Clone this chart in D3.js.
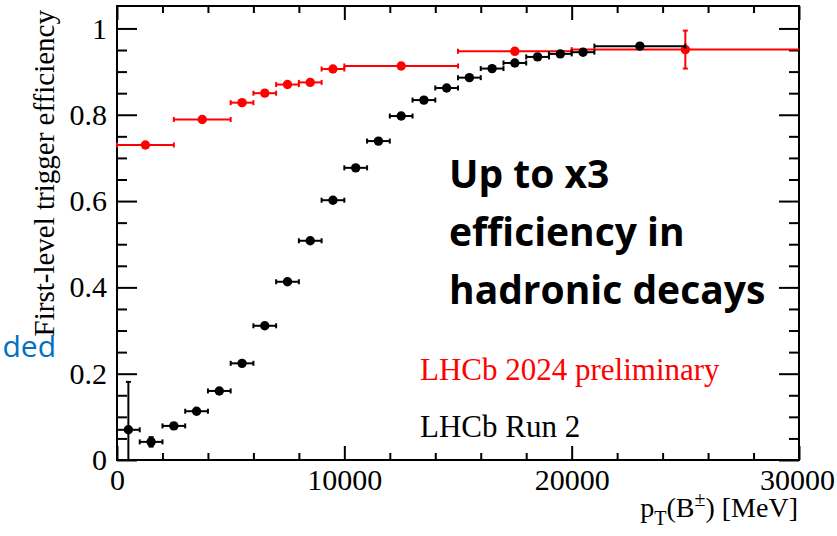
<!DOCTYPE html>
<html>
<head>
<meta charset="utf-8">
<script src="https://cdn.jsdelivr.net/npm/d3@7"></script>
<style>
  body { margin: 0; background: #fff; }
  svg { display: block; }
</style>
</head>
<body>
<svg id="chart" width="837" height="536"></svg>
<script>
// LHCb 2024 preliminary (red)
const redX    = [1250, 3750, 5500, 6500, 7500, 8500, 9500, 12500, 17500, 25000];
const redXLo  = [0, 2500, 5000, 6000, 7000, 8000, 9000, 10000, 15000, 20000];
const redXHi  = [2500, 5000, 6000, 7000, 8000, 9000, 10000, 15000, 20000, 30000];
const redEff  = [0.730, 0.789, 0.828, 0.850, 0.870, 0.875, 0.906, 0.913, 0.947, 0.951];
const redErr  = [0.004, 0.004, 0.004, 0.004, 0.004, 0.004, 0.004, 0.004, 0.006, 0.044];

// LHCb Run 2 (black)
const blackX     = [500, 1500, 2500, 3500, 4500, 5500, 6500, 7500, 8500, 9500, 10500,
                    11500, 12500, 13500, 14500, 15500, 16500, 17500, 18500, 19500, 20500, 23000];
const blackXLo   = [0, 1000, 2000, 3000, 4000, 5000, 6000, 7000, 8000, 9000, 10000,
                    11000, 12000, 13000, 14000, 15000, 16000, 17000, 18000, 19000, 20000, 21000];
const blackXHi   = [1000, 2000, 3000, 4000, 5000, 6000, 7000, 8000, 9000, 10000, 11000,
                    12000, 13000, 14000, 15000, 16000, 17000, 18000, 19000, 20000, 21000, 25000];
const blackEff   = [0.070, 0.042, 0.079, 0.113, 0.160, 0.224, 0.311, 0.413, 0.508, 0.602, 0.677,
                    0.739, 0.797, 0.834, 0.862, 0.886, 0.907, 0.920, 0.934, 0.941, 0.945, 0.959];
const blackErrLo = [0.070, 0.011, 0.006, 0.005, 0.005, 0.005, 0.004, 0.004, 0.004, 0.004, 0.004,
                    0.004, 0.004, 0.004, 0.004, 0.004, 0.004, 0.004, 0.004, 0.004, 0.004, 0.004];
const blackErrHi = [0.111, 0.011, 0.006, 0.005, 0.005, 0.005, 0.004, 0.004, 0.004, 0.004, 0.004,
                    0.004, 0.004, 0.004, 0.004, 0.004, 0.004, 0.004, 0.004, 0.004, 0.004, 0.004];

const xMajor = [0, 10000, 20000, 30000];
const yMajor = [0, 0.2, 0.4, 0.6, 0.8, 1];

const legendLabels = ["LHCb 2024 preliminary", "LHCb Run 2"];
const noteLines = ["Up to x3", "efficiency in", "hadronic decays"];

const serif = "'Liberation Serif', 'Times New Roman', serif";

const svg = d3.select("#chart");

const x = d3.scaleLinear().domain([0, 30000]).range([117, 799]);
const y = d3.scaleLinear().domain([0, 1.052]).range([460, 6]);

const xMinor = d3.range(0, 30001, 2000).filter(v => v % 10000 !== 0);
const yMinor = d3.range(0, 21).map(i => i * 0.05).filter((v, i) => i % 4 !== 0);

// cut-off blue text from the slide
svg.append("text")
  .attr("x", 56).attr("y", 357)
  .attr("text-anchor", "end")
  .attr("font-family", "'Open Sans', 'Noto Sans', sans-serif")
  .attr("font-size", 30)
  .attr("fill", "#0070c0")
  .text("ded");

const styleAxis = (g) => {
  g.attr("font-family", serif).attr("font-size", 30);
  g.select(".domain").remove();
  g.selectAll(".tick line").attr("stroke", "#000").attr("stroke-width", 2);
  g.selectAll("text").attr("fill", "#000");
};

// bottom
svg.append("g").attr("transform", `translate(0,${y(0)})`)
  .call(d3.axisBottom(x).tickValues(xMajor).tickFormat(d3.format("d")).tickSize(-14).tickPadding(9))
  .call(styleAxis)
  .selectAll("text").filter(d => d === 30000).attr("dx", -2);
svg.append("g").attr("transform", `translate(0,${y(0)})`)
  .call(d3.axisBottom(x).tickValues(xMinor).tickFormat("").tickSize(-7))
  .call(styleAxis);
// top
svg.append("g").attr("transform", `translate(0,${y.range()[1]})`)
  .call(d3.axisTop(x).tickValues(xMajor).tickFormat("").tickSize(-14))
  .call(styleAxis);
svg.append("g").attr("transform", `translate(0,${y.range()[1]})`)
  .call(d3.axisTop(x).tickValues(xMinor).tickFormat("").tickSize(-7))
  .call(styleAxis);
// left
svg.append("g").attr("transform", `translate(${x(0)},0)`)
  .call(d3.axisLeft(y).tickValues(yMajor).tickFormat(d3.format("")).tickSize(-20).tickPadding(10))
  .call(styleAxis);
svg.append("g").attr("transform", `translate(${x(0)},0)`)
  .call(d3.axisLeft(y).tickValues(yMinor).tickFormat("").tickSize(-10))
  .call(styleAxis);
// right
svg.append("g").attr("transform", `translate(${x(30000)},0)`)
  .call(d3.axisRight(y).tickValues(yMajor).tickFormat("").tickSize(-20))
  .call(styleAxis);
svg.append("g").attr("transform", `translate(${x(30000)},0)`)
  .call(d3.axisRight(y).tickValues(yMinor).tickFormat("").tickSize(-10))
  .call(styleAxis);

svg.append("rect")
  .attr("x", x(0)).attr("y", y.range()[1])
  .attr("width", x(30000) - x(0)).attr("height", y(0) - y.range()[1])
  .attr("fill", "none").attr("stroke", "#000").attr("stroke-width", 2);

const drawSeries = (pts, color) => {
  const g = svg.append("g").attr("stroke", color).attr("fill", color).attr("stroke-width", 2);
  const cap = 2.5;
  pts.forEach(p => {
    g.append("line").attr("x1", x(p.lo)).attr("x2", x(p.hi)).attr("y1", y(p.e)).attr("y2", y(p.e));
    g.append("line").attr("x1", x(p.lo)).attr("x2", x(p.lo)).attr("y1", y(p.e) - cap).attr("y2", y(p.e) + cap);
    if (p.hi < 30000)
      g.append("line").attr("x1", x(p.hi)).attr("x2", x(p.hi)).attr("y1", y(p.e) - cap).attr("y2", y(p.e) + cap);
    g.append("line").attr("x1", x(p.x)).attr("x2", x(p.x)).attr("y1", y(p.e - p.elo)).attr("y2", y(p.e + p.ehi));
    g.append("line").attr("x1", x(p.x) - cap).attr("x2", x(p.x) + cap).attr("y1", y(p.e + p.ehi)).attr("y2", y(p.e + p.ehi));
    if (p.e - p.elo > 0)
      g.append("line").attr("x1", x(p.x) - cap).attr("x2", x(p.x) + cap).attr("y1", y(p.e - p.elo)).attr("y2", y(p.e - p.elo));
    g.append("circle").attr("cx", x(p.x)).attr("cy", y(p.e)).attr("r", 4.7).attr("stroke", "none");
  });
};

drawSeries(redX.map((v, i) => ({x: v, lo: redXLo[i], hi: redXHi[i], e: redEff[i], elo: redErr[i], ehi: redErr[i]})), "#ff0000");
drawSeries(blackX.map((v, i) => ({x: v, lo: blackXLo[i], hi: blackXHi[i], e: blackEff[i], elo: blackErrLo[i], ehi: blackErrHi[i]})), "#000000");

// axis titles
svg.append("text")
  .attr("transform", "translate(54,10) rotate(-90)")
  .attr("text-anchor", "end")
  .attr("font-family", serif).attr("font-size", 29)
  .text("First-level trigger efficiency");

const xt = svg.append("text")
  .attr("x", 798).attr("y", 517)
  .attr("text-anchor", "end")
  .attr("font-family", serif).attr("font-size", 28);
xt.append("tspan").text("p");
xt.append("tspan").attr("font-size", 20).attr("dy", 8).text("T");
xt.append("tspan").attr("dy", -8).text("(B");
xt.append("tspan").attr("font-size", 20).attr("dy", -11).text("±");
xt.append("tspan").attr("dy", 11).text(") [MeV]");

// legend
svg.selectAll(".legend")
  .data(legendLabels)
  .enter().append("text")
  .attr("x", 420)
  .attr("y", (d, i) => 380 + i * 57)
  .attr("font-family", serif).attr("font-size", 31)
  .attr("fill", (d, i) => i === 0 ? "#ff0000" : "#000")
  .text(d => d);

// annotation
svg.selectAll(".note")
  .data(noteLines)
  .enter().append("text")
  .attr("x", 449)
  .attr("y", (d, i) => 188 + i * 58)
  .attr("font-family", "'Open Sans', 'Noto Sans', sans-serif")
  .attr("font-weight", "bold").attr("font-size", 39)
  .attr("fill", "#000")
  .text(d => d);
</script>
</body>
</html>
